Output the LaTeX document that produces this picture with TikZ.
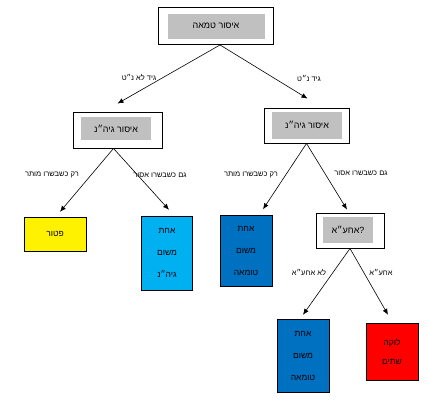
\documentclass[tikz,border=0pt]{standalone}
\usepackage{fontspec}
\newfontfamily\hebfont[Script=Hebrew]{Liberation Sans}
\TeXXeTstate=1
\newcommand{\heb}[1]{{\hebfont\beginR #1\endR}}
\usetikzlibrary{arrows.meta,calc,positioning}
\definecolor{boxgray}{RGB}{192,192,192}
\definecolor{lightblue}{RGB}{0,176,240}
\definecolor{darkblue}{RGB}{0,112,192}
\tikzset{
  outerbox/.style={draw=black, line width=0.9pt, fill=white, inner sep=0pt},
  graybox/.style={fill=boxgray, inner sep=0pt, font=\fontsize{9}{11}\selectfont},
  leafbox/.style={draw=black, line width=0.4pt, inner sep=0pt, align=center, font=\fontsize{8.5}{22}\selectfont},
  arr/.style={-{Latex[length=6pt,width=5pt]}, line width=0.6pt},
  elabel/.style={inner sep=0pt, font=\fontsize{7.5}{9}\selectfont}
}

\begin{document}
\begin{tikzpicture}[x=1pt, y=-1pt]
        \useasboundingbox (0,0) rectangle (429,400);
        % Draw the question boxes
        \node[outerbox, minimum width=115, minimum height=37] (tum) at (216,26) {};
        \node[graybox, minimum width=97, minimum height=25] (tumin) at (tum) {\heb{איסור טמאה}};
        \node[outerbox, minimum width=89, minimum height=36] (gidl) at (117.5,130) {};
        \node[graybox, minimum width=70, minimum height=23] (gidlin) at (116,128.5) {\heb{איסור גיה״נ}};
        \node[outerbox, minimum width=85, minimum height=35] (gidr) at (306.5,125.5) {};
        \node[graybox, minimum width=70, minimum height=27] (gidrin) at (307,125) {\heb{איסור גיה״נ}};
        \node[outerbox, minimum width=68, minimum height=35] (ahea) at (350,230.5) {};
        \node[graybox, minimum width=50, minimum height=26] (ahein) at (348,230) {\heb{?אחע״א}};
        % leaves
        \node[leafbox, fill=yellow, minimum width=62, minimum height=34] (patur) at (55,234) {\heb{פטור}};
        \node[leafbox, fill=lightblue, minimum width=51, minimum height=74] (ahtgid) at (167,253) {\heb{אחת}\\\heb{משום}\\\heb{גיה״נ}};
        \node[leafbox, fill=darkblue, minimum width=52, minimum height=71] (ahttuma) at (246,251) {\heb{אחת}\\\heb{משום}\\\heb{טומאה}};
        \node[leafbox, fill=darkblue, minimum width=52, minimum height=73] (ahttumb) at (303,355.5) {\heb{אחת}\\\heb{משום}\\\heb{טומאה}};
        \node[leafbox, fill=red, minimum width=52, minimum height=57, font=\fontsize{8.5}{19}\selectfont] (shtaim) at (392,351.5) {\heb{לוקה}\\\heb{שתים}};
        % arrows
        \draw[arr] ([xshift=4pt]tum.south) -- ([yshift=8pt]gidl.north);
        \draw[arr] ([xshift=4pt]tum.south) -- ([xshift=1pt,yshift=9pt]gidr.north);
        \draw[arr] ([xshift=-4pt]gidl.south) -- ([xshift=5pt,yshift=5pt]patur.north);
        \draw[arr] ([xshift=-4pt]gidl.south) -- ([xshift=2pt,yshift=6pt]ahtgid.north);
        \draw[arr] (gidr.south) -- ([xshift=17pt,yshift=6pt]ahttuma.north);
        \draw[arr] (gidr.south) -- ([xshift=-3pt,yshift=3pt]ahea.north);
        \draw[arr] (ahea.south) -- ([yshift=4pt]ahttumb.north);
        \draw[arr] (ahea.south) -- ([xshift=-4pt,yshift=8pt]shtaim.north);
        % labels
        \node[elabel] (l1) at (139,78) {\heb{גיד לא נ״ט}};
        \node[elabel] (l2) at (309,78) {\heb{גיד נ״ט}};
        \node[elabel] (l3) at (52,175) {\heb{רק כשבשרו מותר}};
        \node[elabel] (l4) at (160,175) {\heb{גם כשבשרו אסור}};
        \node[elabel] (l5) at (251,175) {\heb{רק כשבשרו מותר}};
        \node[elabel] (l6) at (361,173) {\heb{גם כשבשרו אסור}};
        \node[elabel] (l7) at (309,273) {\heb{לא אחע״א}};
        \node[elabel] (l8) at (381,273) {\heb{אחע״א}};
\end{tikzpicture}
\end{document}
